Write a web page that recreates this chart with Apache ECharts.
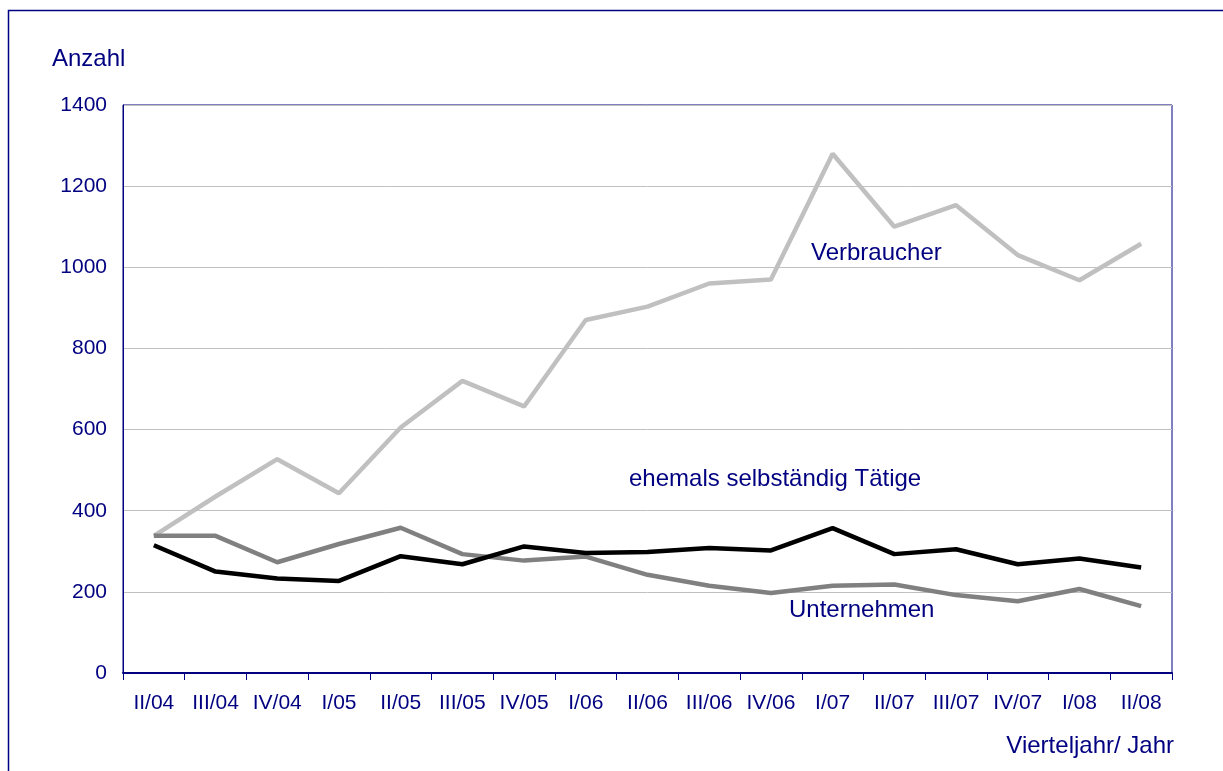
<!DOCTYPE html>
<html>
<head>
<meta charset="utf-8">
<script src="https://cdn.jsdelivr.net/npm/echarts@6/dist/echarts.min.js"></script>
<style>html,body{margin:0;padding:0;background:#fff}#c{width:1223px;height:771px}</style>
</head>
<body>
<div id="c"></div>
<script>
const categories = ['II/04','III/04','IV/04','I/05','II/05','III/05','IV/05','I/06','II/06','III/06','IV/06','I/07','II/07','III/07','IV/07','I/08','II/08'];
const verbraucher = [338, 435, 527, 443, 605, 720, 657, 870, 903, 960, 970, 1280, 1100, 1153, 1030, 968, 1058];
const unternehmen = [338, 338, 273, 318, 358, 293, 277, 287, 242, 215, 197, 215, 218, 192, 177, 207, 165];
const ehemals = [315, 250, 233, 227, 288, 268, 312, 296, 298, 308, 302, 357, 293, 305, 268, 282, 260];
const yTicks = [0, 200, 400, 600, 800, 1000, 1200, 1400];

const navy = '#000080';
const font = 'Liberation Sans, Arial, sans-serif';
const chart = echarts.init(document.getElementById('c'), null, {renderer: 'canvas'});
chart.setOption({
  animation: false,
  backgroundColor: '#fff',
  grid: {left: 123, right: 51, top: 105, bottom: 98, show: true, borderColor: navy, borderWidth: 1, backgroundColor: 'transparent'},
  xAxis: {
    type: 'category', data: categories, boundaryGap: true,
    axisLine: {lineStyle: {color: navy, width: 2}},
    axisTick: {show: true, length: 7, lineStyle: {color: navy, width: 1}},
    axisLabel: {color: navy, fontSize: 21, fontFamily: font, margin: 20, interval: 0},
    splitLine: {show: false}
  },
  yAxis: {
    type: 'value', min: yTicks[0], max: yTicks[yTicks.length - 1], interval: 200,
    axisLine: {show: true, lineStyle: {color: navy, width: 1}},
    axisTick: {show: false},
    axisLabel: {color: navy, fontSize: 21, fontFamily: font, margin: 16, formatter: v => String(v)},
    splitLine: {show: true, lineStyle: {color: '#c0c0c0', width: 1}}
  },
  series: [
    {name: 'Verbraucher', type: 'line', data: verbraucher, symbol: 'none', lineStyle: {color: '#c0c0c0', width: 4.5}, z: 2},
    {name: 'Unternehmen', type: 'line', data: unternehmen, symbol: 'none', lineStyle: {color: '#808080', width: 4.5}, z: 3},
    {name: 'ehemals selbständig Tätige', type: 'line', data: ehemals, symbol: 'none', lineStyle: {color: '#000000', width: 4.5}, z: 4}
  ],
  graphic: [
    {type: 'rect', shape: {x: 8.5, y: 10.5, width: 1300, height: 900}, style: {fill: 'none', stroke: navy, lineWidth: 1.5}, silent: true, z: -1},
    {type: 'text', left: 52, top: 47, style: {text: 'Anzahl', fill: navy, font: '24px ' + font}},
    {type: 'text', right: 49, top: 734, style: {text: 'Vierteljahr/ Jahr', fill: navy, font: '24px ' + font}},
    {type: 'text', left: 811, top: 241, style: {text: 'Verbraucher', fill: navy, font: '24px ' + font}},
    {type: 'text', left: 629, top: 467, style: {text: 'ehemals selbständig Tätige', fill: navy, font: '24px ' + font}},
    {type: 'text', left: 789, top: 598, style: {text: 'Unternehmen', fill: navy, font: '24px ' + font}}
  ]
});
</script>
</body>
</html>
